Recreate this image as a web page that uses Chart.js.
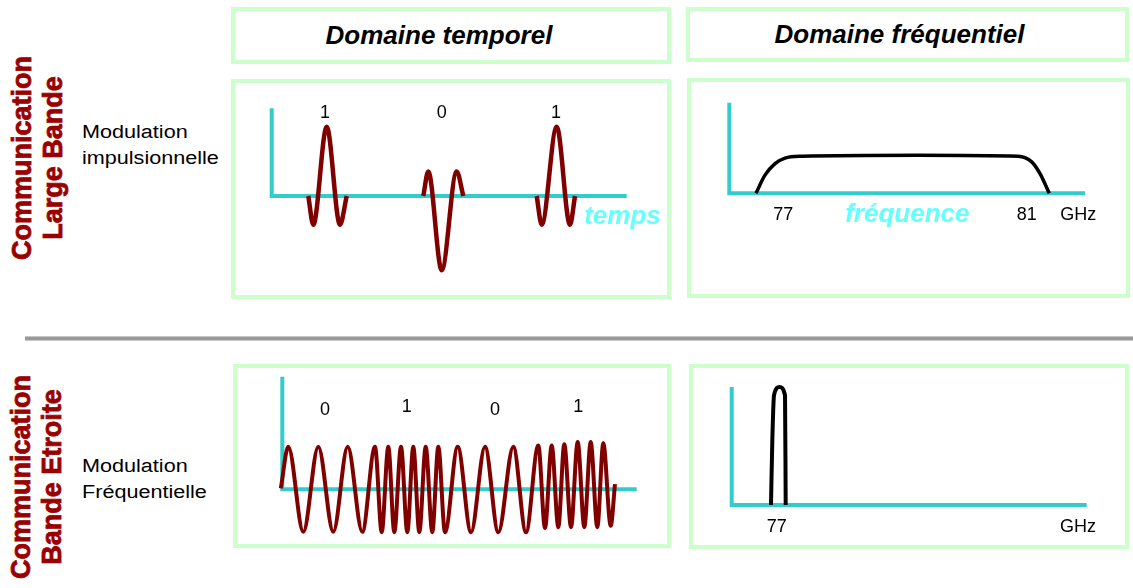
<!DOCTYPE html>
<html lang="fr">
<head>
<meta charset="utf-8">
<title>Large bande / bande étroite</title>
<script src="https://cdn.jsdelivr.net/npm/chart.js@4.4.1/dist/chart.umd.min.js"></script>
<style>
  body {
    margin: 0;
    width: 1133px;
    height: 588px;
    position: relative;
    overflow: hidden;
    background: #fff;
    font-family: "Liberation Sans", Arial, sans-serif;
  }
  .box {
    position: absolute;
    box-sizing: border-box;
    border: 4px solid #ccffcc;
  }
  .head {
    display: flex;
    align-items: center;
    justify-content: center;
    font: italic bold 26px "Liberation Sans", Arial, sans-serif;
    color: #000;
  }
  .side {
    position: absolute;
    width: 240px;
    height: 62px;
    transform: rotate(-90deg);
    text-align: center;
    font: bold 27px/31px "Liberation Sans", Arial, sans-serif;
    color: #990000;
    -webkit-text-stroke: 0.8px #990000;
    white-space: nowrap;
  }
  .mod {
    position: absolute;
    left: 82px;
    font: 18px/26px "Liberation Sans", Arial, sans-serif;
    color: #000;
    transform: scaleX(1.2);
    transform-origin: left top;
    white-space: nowrap;
  }
  .sep {
    position: absolute;
    left: 25px;
    top: 336px;
    width: 1108px;
    height: 3px;
    background: #999;
    border-top: 1px solid #c8c8c8;
    border-bottom: 1px solid #c8c8c8;
  }
  canvas { position: absolute; }
</style>
</head>
<body>

<div class="box head" style="left:231px; top:7px; width:440px; height:57px; padding-right:24px;">Domaine temporel</div>
<div class="box head" style="left:686px; top:7px; width:443px; height:55px; padding-right:16px;">Domaine fréquentiel</div>

<div class="box" style="left:231px; top:79px; width:440px; height:220px;"></div>
<div class="box" style="left:687px; top:78px; width:443px; height:220px;"></div>
<div class="box" style="left:233px; top:364px; width:438px; height:184px;"></div>
<div class="box" style="left:689px; top:364px; width:440px; height:185px;"></div>

<div class="side" style="left:-82px; top:127px;">Communication<br>Large Bande</div>
<div class="side" style="left:-83px; top:446px;">Communication<br>Bande Etroite</div>

<div class="mod" style="top:119px;">Modulation<br>impulsionnelle</div>
<div class="mod" style="top:453px;">Modulation<br>Fréquentielle</div>

<div class="sep"></div>

<canvas id="tl" width="440" height="220" style="left:231px; top:79px;"></canvas>
<canvas id="tr" width="443" height="220" style="left:687px; top:78px;"></canvas>
<canvas id="bl" width="438" height="184" style="left:233px; top:364px;"></canvas>
<canvas id="br" width="440" height="185" style="left:689px; top:364px;"></canvas>

<script>
// --- données ---

// large bande, domaine temporel : 3 impulsions (t en u.a., amplitude normalisée)
const bitsLB = ['1', '0', '1'];
const pulse1aT = [36.6, 41.6, 55.0, 68.3, 75.0];
const pulse1aA = [0, -0.41, 0.99, -0.41, 0];
const pulse0T = [151.6, 156.6, 170.0, 185.0, 191.6];
const pulse0A = [0, 0.35, -1.06, 0.35, 0];
const pulse1bT = [265.0, 270.0, 285.0, 298.3, 303.3];
const pulse1bA = [0, -0.41, 0.99, -0.41, 0];

// large bande, domaine fréquentiel : spectre 77-81 GHz
const bandGHz = [76.551, 76.699, 76.864, 77.028, 77.302, 79.214, 80.857, 81.082, 81.219, 81.371];
const bandAmp = [0, 0.49, 0.8, 0.95, 1.0, 1.03, 1.0, 0.85, 0.53, 0];
const ticksLB = ['77', '81'];

// bande étroite, domaine temporel : FSK (extrema de la porteuse)
const bitsBE = ['0', '1', '0', '1'];
const fskT = [-1.5, 6.0, 21.0, 36.0, 51.0, 65.4, 80.0,
  92.7, 99.4, 106.0, 112.0, 118.7, 125.0, 131.0, 137.0, 143.4, 150.0, 156.0, 162.7,
  175.4, 188.7, 202.7, 216.0, 231.0, 243.7,
  256.0, 262.7, 269.4, 276.0, 282.0, 288.7, 295.4, 302.0, 308.4, 315.0, 321.0, 328.4, 332.7];
const fskA = [0.02, 0.99, -0.99, 0.99, -0.99, 0.99, -0.99,
  0.99, -1.0, 0.99, -1.0, 0.99, -1.0, 0.99, -1.0, 0.99, -1.0, 0.99, -1.0,
  0.99, -1.0, 0.99, -1.0, 0.99, -1.0,
  1.02, -0.9, 1.02, -0.88, 1.05, -0.88, 1.1, -0.88, 1.1, -0.88, 1.07, -0.85, 0.12];

// bande étroite, domaine fréquentiel : raie à 77 GHz
const lineGHz = [76.906, 76.928, 76.956, 77.046, 77.137, 77.148];
const lineAmp = [0, 0.55, 0.93, 1.0, 0.93, 0];
const ticksBE = ['77'];

// --- couleurs ---
const AXIS = '#33cccc';
const WAVE = '#800000';
const LIGHT = '#66ffff';
const FONT_NUM = '18px "Liberation Sans", Arial, sans-serif';
const FONT_AXT = 'italic bold 26px "Liberation Sans", Arial, sans-serif';

const toPts = (xs, ys) => xs.map((v, i) => ({ x: v, y: ys[i] }));

// axes en L : origine (x0, 0), vertical jusqu'à yTop, horizontal jusqu'à x1
function axisSet(x0, x1, yTop) {
  return {
    data: [{ x: x0, y: yTop }, { x: x0, y: 0 }, { x: x1, y: 0 }],
    borderColor: AXIS,
    borderWidth: 4,
    tension: 0,
    borderJoinStyle: 'miter',
    order: 2
  };
}

function curveSet(pts, color, width) {
  return {
    data: pts,
    borderColor: color,
    borderWidth: width,
    cubicInterpolationMode: 'monotone',
    order: 1
  };
}

// textes posés en coordonnées de données
const textMarks = {
  id: 'textMarks',
  afterDatasetsDraw(chart, args, opts) {
    const { ctx, scales: { x, y } } = chart;
    ctx.save();
    ctx.textAlign = 'center';
    ctx.textBaseline = 'middle';
    (opts.items || []).forEach(it => {
      ctx.font = it.font;
      ctx.fillStyle = it.color || '#000';
      ctx.fillText(it.text, x.getPixelForValue(it.x), y.getPixelForValue(it.y));
    });
    ctx.restore();
  }
};

function makeChart(id, datasets, xr, yr, items) {
  return new Chart(document.getElementById(id), {
    type: 'line',
    data: { datasets },
    options: {
      responsive: false,
      animation: false,
      events: [],
      layout: { padding: 0 },
      elements: { point: { radius: 0 } },
      plugins: {
        legend: { display: false },
        tooltip: { enabled: false },
        textMarks: { items }
      },
      scales: {
        x: { type: 'linear', min: xr[0], max: xr[1], display: false },
        y: { type: 'linear', min: yr[0], max: yr[1], display: false }
      }
    },
    plugins: [textMarks]
  });
}

// large bande - temporel
const bitPosLB = [53.3, 170.0, 284.3];
makeChart('tl', [
  axisSet(0, 355, 1.253),
  curveSet(toPts(pulse1aT, pulse1aA), WAVE, 4.5),
  curveSet(toPts(pulse0T, pulse0A), WAVE, 4.5),
  curveSet(toPts(pulse1bT, pulse1bA), WAVE, 4.5)
], [-40.7, 399.3], [-1.471, 1.671], [
  ...bitsLB.map((b, i) => ({ text: b, x: bitPosLB[i], y: 1.18, font: FONT_NUM })),
  { text: 'temps', x: 350.8, y: -0.3, font: FONT_AXT, color: LIGHT }
]);

// large bande - fréquentiel
makeChart('tr', [
  axisSet(76.1126, 81.958, 2.449),
  curveSet(toPts(bandGHz, bandAmp), '#000', 3.5)
], [75.4175, 82.6977], [-2.83, 3.116], [
  { text: ticksLB[0], x: 77, y: -0.586, font: FONT_NUM },
  { text: ticksLB[1], x: 81, y: -0.586, font: FONT_NUM },
  { text: 'GHz', x: 81.848, y: -0.586, font: FONT_NUM },
  { text: 'fréquence', x: 79.038, y: -0.586, font: FONT_AXT, color: LIGHT }
]);

// bande étroite - temporel
const bitPosBE = [42.7, 124.4, 212.7, 296.0];
const bitYBE = [1.84, 1.92, 1.84, 1.92];
makeChart('bl', [
  axisSet(0, 354.4, 2.619),
  curveSet(toPts(fskT, fskA), WAVE, 4)
], [-49.3, 388.7], [-1.365, 2.914],
  bitsBE.map((b, i) => ({ text: b, x: bitPosBE[i], y: bitYBE[i], font: FONT_NUM }))
);

// bande étroite - fréquentiel
makeChart('br', [
  axisSet(76.2593, 82.103, 1.0),
  curveSet(toPts(lineGHz, lineAmp), '#000', 4)
], [75.5564, 82.7992], [-0.373, 1.195], [
  { text: ticksBE[0], x: 77, y: -0.184, font: FONT_NUM },
  { text: 'GHz', x: 81.96, y: -0.184, font: FONT_NUM }
]);
</script>
</body>
</html>
